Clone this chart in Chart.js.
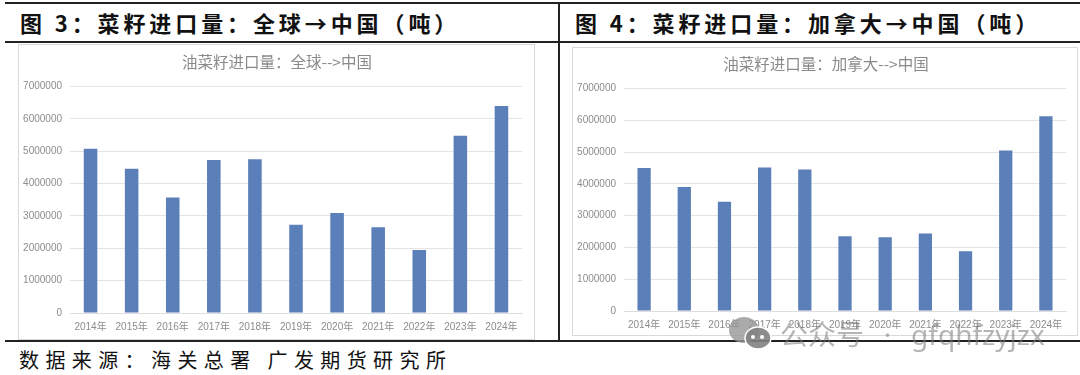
<!DOCTYPE html>
<html>
<head>
<meta charset="utf-8">
<script src="https://cdn.jsdelivr.net/npm/chart.js"></script>
<style>
  html, body { margin: 0; padding: 0; background: #fff; }
  body { width: 1080px; height: 375px; position: relative; overflow: hidden; font-family: "Noto Sans CJK SC", sans-serif; color: #111; }
  .rule { position: absolute; background: #222; }
  .head { position: absolute; top: 8px; font-size: 22px; font-weight: 700; line-height: 28px; letter-spacing: 3.9px; white-space: nowrap; }
  .source { position: absolute; left: 19px; top: 346px; font-size: 20px; line-height: 28px; letter-spacing: 6.4px; white-space: nowrap; }
  .box { position: absolute; border: 1px solid #d9d9d9; box-sizing: border-box; background: #fff; }
  canvas { position: absolute; }
  .mark { position: absolute; left: 728px; top: 317px; display: flex; align-items: center; color: rgba(120,120,120,.55); font-family: "Noto Sans", "Noto Sans CJK SC", sans-serif; font-size: 28px; line-height: 34px; white-space: nowrap; word-spacing: 12.5px; }
  .mark svg { margin-right: 8px; }
</style>
</head>
<body>
  <div class="rule" style="left:5px;top:2px;width:1075px;height:2px"></div>
  <div class="rule" style="left:5px;top:41px;width:1075px;height:2px"></div>
  <div class="rule" style="left:5px;top:340px;width:1075px;height:2px"></div>
  <div class="rule" style="left:558px;top:2px;width:2px;height:340px"></div>

  <div class="head" style="left:20px">图 3：菜籽进口量：全球→中国（吨）</div>
  <div class="head" style="left:575px">图 4：菜籽进口量：加拿大→中国（吨）</div>

  <div class="box" style="left:18px;top:44px;width:517px;height:296px"></div>
  <div class="box" style="left:572px;top:47px;width:506px;height:289px"></div>
  <canvas id="globalChart" style="left:18px;top:44px" width="517" height="296"></canvas>
  <canvas id="canadaChart" style="left:572px;top:47px" width="506" height="289"></canvas>

  <div class="source">数据来源：海关总署 广发期货研究所</div>

  <div class="mark">
    <svg width="44" height="34" viewBox="0 0 44 34">
      <ellipse cx="16" cy="13" rx="15" ry="13" fill="rgba(150,150,150,.8)"/>
      <ellipse cx="30" cy="21" rx="13" ry="11" fill="rgba(130,130,130,.9)" stroke="#fff" stroke-width="1.5"/>
      <circle cx="25" cy="20" r="2" fill="#fff"/><circle cx="34" cy="20" r="2" fill="#fff"/>
    </svg>
    <span>公众号 · gfqhfzyjzx</span>
  </div>

  <script>
    const years = ['2014年', '2015年', '2016年', '2017年', '2018年', '2019年', '2020年', '2021年', '2022年', '2023年', '2024年'];
    const globalImports = [5080000, 4460000, 3570000, 4730000, 4750000, 2730000, 3090000, 2650000, 1950000, 5480000, 6400000];
    const canadaImports = [4500000, 3900000, 3440000, 4520000, 4450000, 2350000, 2320000, 2440000, 1880000, 5050000, 6130000];
    const yTicks = [0, 1000000, 2000000, 3000000, 4000000, 5000000, 6000000, 7000000];

    const tickFont = { family: '"Liberation Sans", "Noto Sans CJK SC", sans-serif', size: 10 };

    // title sits right of the canvas centre in the reference
    const titleShift = {
      id: 'titleShift',
      afterLayout: chart => { chart.titleBlock.left += 14; }
    };

    const makeChart = (id, title, values, axisWidth, axisHeight, padRight, padTop, titlePad) => {
      new Chart(document.getElementById(id).getContext('2d'), {
        type: 'bar',
        data: {
          labels: years,
          datasets: [{ data: values, backgroundColor: '#5b7fb8', barPercentage: 0.33, categoryPercentage: 1 }]
        },
        plugins: [titleShift],
        options: {
          responsive: false,
          animation: false,
          layout: { padding: { top: padTop, right: padRight, left: 0, bottom: 0 } },
          plugins: {
            legend: { display: false },
            tooltip: { enabled: false },
            title: {
              display: true,
              text: title,
              color: '#8a8a8a',
              font: { family: '"Noto Sans CJK SC", sans-serif', size: 15.5, weight: 'normal' },
              padding: titlePad
            }
          },
          scales: {
            x: {
              grid: { display: false, drawTicks: false },
              border: { color: '#dedede' },
              ticks: { color: '#8c8c8c', font: tickFont, maxRotation: 0, autoSkip: false, padding: 8 },
              afterFit: s => { s.height = axisHeight; }
            },
            y: {
              min: 0,
              max: 7000000,
              afterBuildTicks: s => { s.ticks = yTicks.map(v => ({ value: v })); },
              grid: { color: '#e4e4e4', drawTicks: false },
              border: { display: false },
              ticks: { color: '#8c8c8c', font: tickFont, padding: 8, callback: v => String(v) },
              afterFit: s => { s.width = axisWidth; }
            }
          }
        }
      });
    };

    makeChart('globalChart', '油菜籽进口量：全球-->中国', globalImports, 52, 27, 13, 9, { top: 0, bottom: 15 });
    makeChart('canadaChart', '油菜籽进口量：加拿大-->中国', canadaImports, 52, 25, 12, 8, { top: 0, bottom: 15 });
  </script>
</body>
</html>
